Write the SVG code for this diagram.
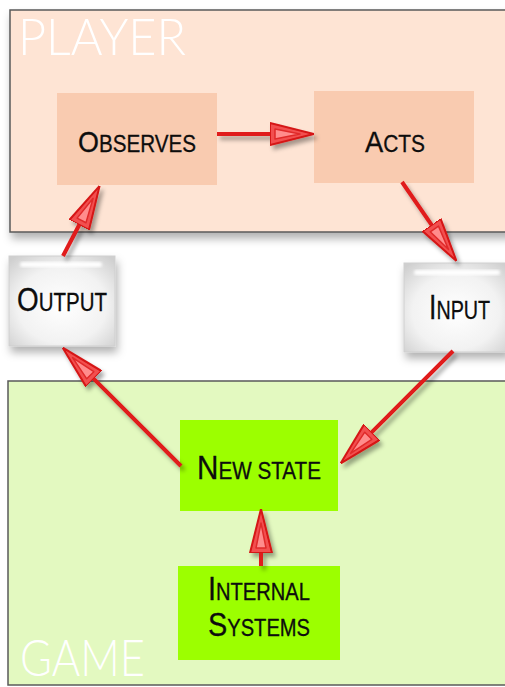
<svg xmlns="http://www.w3.org/2000/svg" width="505" height="687" viewBox="0 0 505 687">
  <defs>
    <style>
      .zone { stroke: #5a5a5a; stroke-width: 1.5; }
      .zoneLabel { font-family: Lato, "Liberation Sans", sans-serif; font-weight: 300; font-size: 52px; fill: #ffffff; }
      .label { font-family: "Liberation Sans", Arial, sans-serif; fill: #0d0d0d; stroke: #0d0d0d; stroke-width: 0.3; }
      .cap { font-size: 31px; }
      .sc { font-size: 23px; }
      .wire { stroke: #e01a1a; stroke-width: 4; fill: none; marker-end: url(#head); }
    </style>
    <filter id="shadow" x="-20%" y="-20%" width="140%" height="140%">
      <feDropShadow dx="3" dy="4" stdDeviation="2" flood-color="#000" flood-opacity="0.35"/>
    </filter>
    <filter id="boxShadow" x="-20%" y="-20%" width="150%" height="150%">
      <feDropShadow dx="2" dy="6" stdDeviation="4" flood-color="#000" flood-opacity="0.3"/>
    </filter>
    <filter id="soft"><feGaussianBlur stdDeviation="1.5"/></filter>
    <radialGradient id="glass" cx="50%" cy="55%" r="70%">
      <stop offset="0" stop-color="#ffffff"/>
      <stop offset="0.6" stop-color="#f2f2f2"/>
      <stop offset="1" stop-color="#cfcfcf"/>
    </radialGradient>
    <marker id="head" viewBox="0 0 44 24" refX="1" refY="12" markerWidth="44" markerHeight="24" markerUnits="userSpaceOnUse" orient="auto">
      <path d="M0,1 L44,12 L0,23 Z" fill="#f25050" stroke="#d51515" stroke-width="2" stroke-linejoin="round"/>
      <path d="M5,7 L30,12 L5,17 Z" fill="#ff8c8c" stroke="#e02a2a" stroke-width="1.5" stroke-linejoin="round"/>
    </marker>
  </defs>

  <rect width="505" height="687" fill="#ffffff"/>

  <!-- zones -->
  <g id="player-zone">
    <rect class="zone" x="10" y="10" width="505" height="222" fill="#fee4d4" filter="url(#boxShadow)"/>
    <text class="zoneLabel" x="18" y="55" textLength="168" lengthAdjust="spacingAndGlyphs">PLAYER</text>
  </g>
  <g id="game-zone">
    <rect class="zone" x="8" y="381" width="507" height="304" fill="#e3f9c0"/>
    <text class="zoneLabel" x="20" y="676" textLength="125" lengthAdjust="spacingAndGlyphs">GAME</text>
  </g>

  <!-- nodes -->
  <g id="observes">
    <rect x="57" y="93" width="160" height="92" fill="#f9cbb0"/>
    <text class="label" x="78" y="152" textLength="118" lengthAdjust="spacingAndGlyphs"><tspan class="cap" style="font-size:30px">O</tspan><tspan class="sc">BSERVES</tspan></text>
  </g>
  <g id="acts">
    <rect x="314" y="91" width="160" height="92" fill="#f9cbb0"/>
    <text class="label" x="365" y="152" textLength="60" lengthAdjust="spacingAndGlyphs"><tspan class="cap" style="font-size:30px">A</tspan><tspan class="sc">CTS</tspan></text>
  </g>
  <g id="output">
    <g filter="url(#boxShadow)">
      <rect x="9" y="256" width="106" height="90" fill="url(#glass)" stroke="#cfcfcf" stroke-width="1"/>
    </g>
    <rect x="20" y="262" width="82" height="5" rx="2.5" fill="#ffffff" filter="url(#soft)"/>
    <text class="label" transform="translate(17,311) scale(0.82,1)"><tspan class="cap" style="font-size:34px">O</tspan><tspan class="sc" style="font-size:25px">UTPUT</tspan></text>
  </g>
  <g id="input">
    <g filter="url(#boxShadow)">
      <rect x="404" y="263" width="104" height="89" fill="url(#glass)" stroke="#cfcfcf" stroke-width="1"/>
    </g>
    <rect x="414" y="270" width="86" height="5" rx="2.5" fill="#ffffff" filter="url(#soft)"/>
    <text class="label" transform="translate(429,319) scale(0.76,1)"><tspan class="cap" style="font-size:35px">I</tspan><tspan class="sc" style="font-size:26px">NPUT</tspan></text>
  </g>
  <g id="new-state">
    <rect x="180" y="420" width="158" height="91" fill="#9cff00"/>
    <text class="label" x="197" y="479" textLength="124" lengthAdjust="spacingAndGlyphs"><tspan class="cap" style="font-size:33px">N</tspan><tspan class="sc">EW STATE</tspan></text>
  </g>
  <g id="internal-systems">
    <rect x="178" y="566" width="162" height="94" fill="#9cff00"/>
    <text class="label" x="208" y="600" textLength="102" lengthAdjust="spacingAndGlyphs"><tspan class="cap" style="font-size:33px">I</tspan><tspan class="sc">NTERNAL</tspan></text>
    <text class="label" x="208" y="636" textLength="102" lengthAdjust="spacingAndGlyphs"><tspan class="cap" style="font-size:33px">S</tspan><tspan class="sc">YSTEMS</tspan></text>
  </g>

  <!-- connectors -->
  <g id="connectors" filter="url(#shadow)">
    <line class="wire" x1="217" y1="134" x2="271" y2="134"/>
    <line class="wire" x1="63" y1="256" x2="79.7" y2="224"/>
    <line class="wire" x1="402" y1="182" x2="432.1" y2="225.7"/>
    <line class="wire" x1="453" y1="351" x2="371.1" y2="432.9"/>
    <line class="wire" x1="181" y1="466" x2="93.1" y2="378.1"/>
    <line class="wire" x1="261" y1="566" x2="261" y2="552"/>
  </g>
</svg>
